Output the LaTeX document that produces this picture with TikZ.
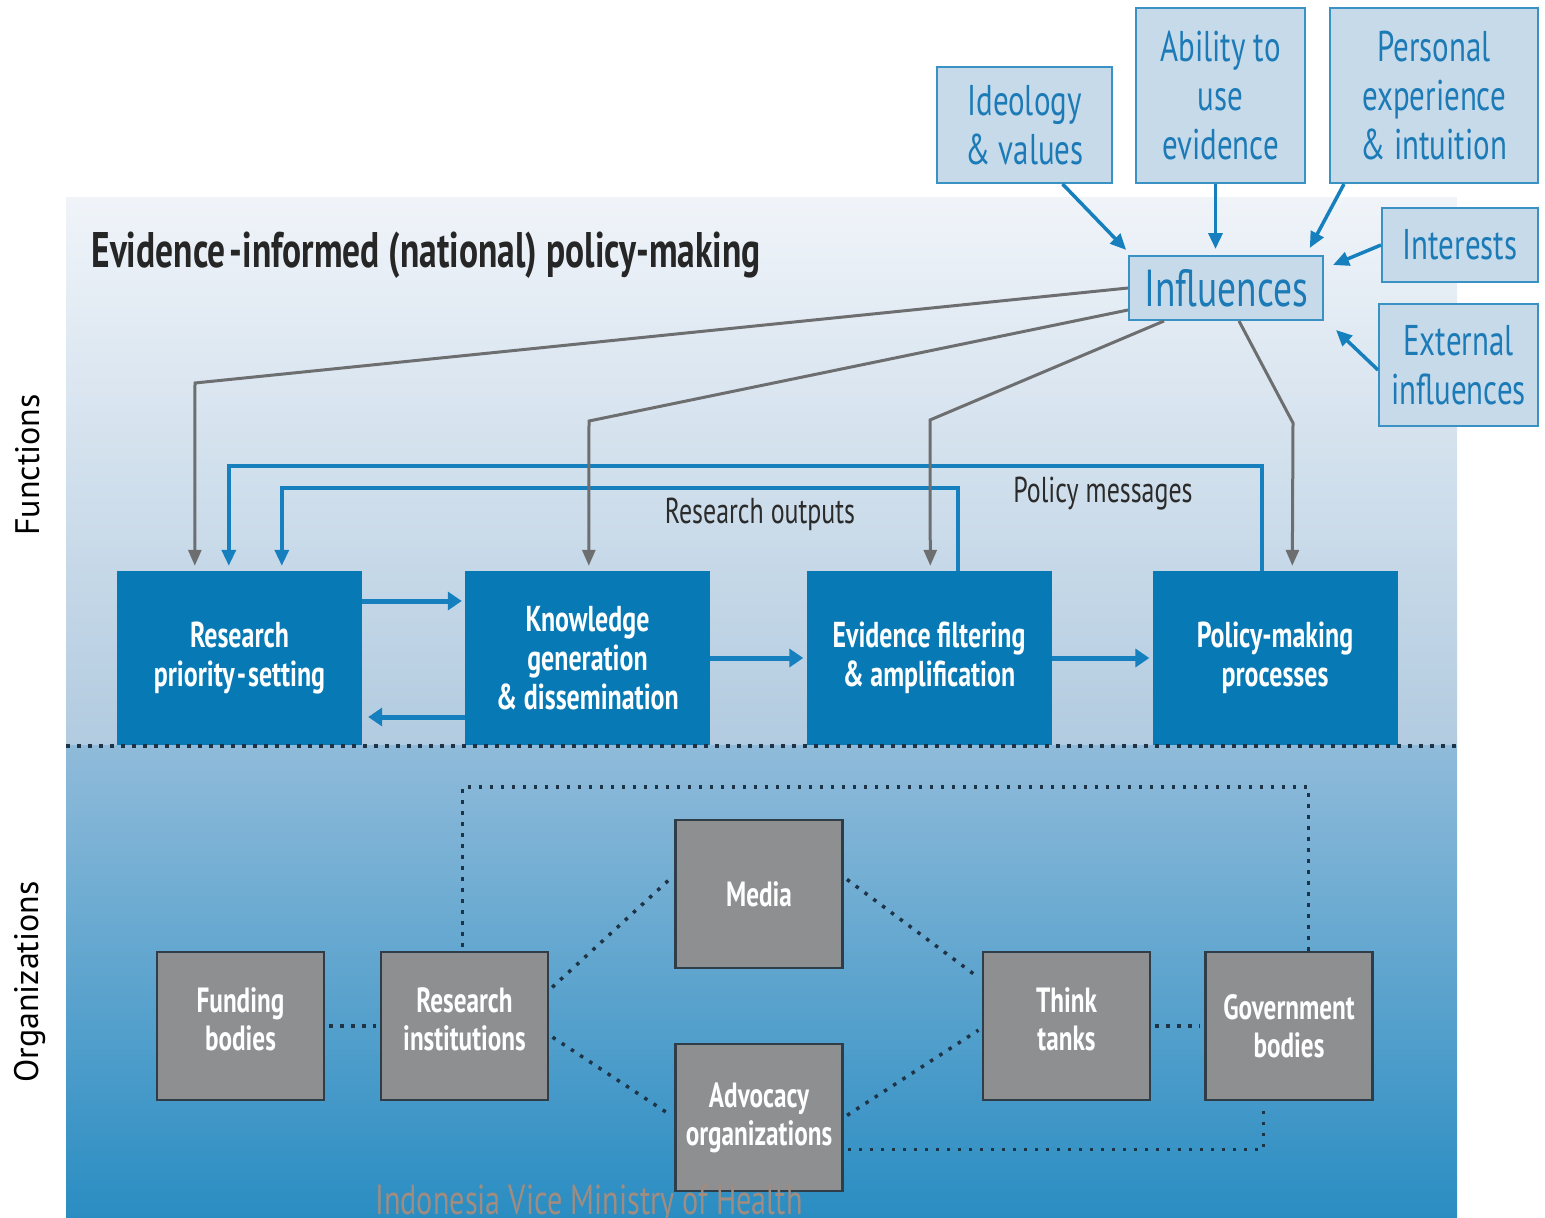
\documentclass[tikz,border=0pt]{standalone}
\usepackage{fontspec}
\setmainfont{PT Sans}[FakeStretch=0.72]
\newfontfamily\sidefont{PT Sans}
\newfontfamily\titlefont{PT Sans Bold}[FakeStretch=0.71]
\usetikzlibrary{arrows.meta}
\definecolor{fnblue}{HTML}{0779B5}
\definecolor{lineblue}{HTML}{1580BD}
\definecolor{linegray}{HTML}{6D6E70}
\definecolor{inflfill}{HTML}{C7DAEA}
\definecolor{inflline}{HTML}{3A92C4}
\definecolor{infltext}{HTML}{1C7BB6}
\definecolor{orggray}{HTML}{8E8F91}
\definecolor{orgline}{HTML}{2F3D48}
\definecolor{dotcol}{HTML}{1F3347}
\definecolor{bgtop}{HTML}{F0F4F9}
\definecolor{bgmid}{HTML}{B2CBE0}
\definecolor{lowtop}{HTML}{90BBDA}
\definecolor{lowbot}{HTML}{2A8DC2}
\definecolor{labtext}{HTML}{2B2B2B}
\definecolor{wmark}{HTML}{A08C80}

\begin{document}
\begin{tikzpicture}[x=1pt,y=-1pt,
  fbox/.style={fill=fnblue, text=white, font=\bfseries\fontsize{36}{39}\selectfont, minimum width=245pt, minimum height=174pt, inner sep=0pt, align=center},
  obox/.style={fill=orggray, draw=orgline, line width=2.5pt, text=white, font=\bfseries\fontsize{35}{38}\selectfont, minimum width=167pt, minimum height=148pt, inner sep=0pt, align=center},
  ibox/.style={fill=inflfill, draw=inflline, line width=2pt, text=infltext, font=\fontsize{43}{49}\selectfont, inner sep=0pt, align=center},
  garrow/.style={draw=linegray, line width=3pt, -{Triangle[length=16pt,width=13pt]}, shorten >=5pt},
  barrow/.style={draw=lineblue, line width=3.5pt, -{Triangle[length=16pt,width=14pt]}, shorten >=5pt},
  fnarrow/.style={draw=lineblue, line width=5pt, -{Triangle[length=14pt,width=18pt]}, shorten >=3pt},
  iarrow/.style={draw=lineblue, line width=3.5pt, -{Triangle[length=16pt,width=14pt]}},
  dotline/.style={draw=dotcol, line width=3.5pt, dash pattern=on 3.5pt off 7.5pt},
  lab/.style={text=labtext, font=\fontsize{36}{40}\selectfont}]
  \useasboundingbox (0,0) rectangle (1545,1218);

  % backgrounds
  \shade[top color=bgtop, bottom color=bgmid] (66,197) rectangle (1457,745);
  \shade[top color=lowtop, bottom color=lowbot] (66,745) rectangle (1457,1218);

  \node[anchor=west, text=black!85, font=\titlefont\fontsize{50}{56}\selectfont] (title) at (88,255) {Evidence\kern4pt-informed (national) policy-making};
  \node[rotate=90, font=\sidefont\fontsize{34}{40}\selectfont] (fnlab) at (28,465) {Functions};
  \node[rotate=90, font=\sidefont\fontsize{34}{40}\selectfont] (orglab) at (30,982) {Organizations};

  % influences
  \node[ibox, minimum width=194pt, minimum height=64pt, font=\fontsize{52}{56}\selectfont] (infl) at (1226,288) {Influences};
  \node[ibox, minimum width=175pt, minimum height=116pt] (ideo) at (1024.5,125) {Ideology\\\& values};
  \node[ibox, minimum width=169pt, minimum height=175pt] (abil) at (1220.5,95.5) {Ability to\\use\\evidence};
  \node[ibox, minimum width=208pt, minimum height=175pt] (pers) at (1434,95.5) {Personal\\experience\\\& intuition};
  \node[ibox, minimum width=156pt, minimum height=74pt] (intr) at (1460,245) {Interests};
  \node[ibox, minimum width=159pt, minimum height=122pt] (extn) at (1458.5,365) {External\\influences};

  \draw[iarrow, shorten >=7pt] ([xshift=38pt]ideo.south) -- ([xshift=3pt]infl.north west);
  \draw[iarrow, shorten >=6pt] ([xshift=-5pt]abil.south) -- ([xshift=-5pt]abil.south |- infl.north);
  \draw[iarrow, shorten >=8pt] ([xshift=15pt]pers.south west) -- ([xshift=-18pt]infl.north east);
  \draw[iarrow] (intr.west) -- ([xshift=9pt,yshift=-10pt]infl.north east);
  \draw[iarrow] ([yshift=-5pt]extn.west) -- ([xshift=12pt,yshift=-9pt]infl.south east);

  % functions
  \node[fbox] (rps) at (239.5,658) {Research\\priority\kern2pt-\kern2pt setting};
  \node[fbox] (kgd) at (587.5,658) {Knowledge\\generation\\\& dissemination};
  \node[fbox] (efa) at (929,658) {Evidence filtering\\\& amplification};
  \node[fbox] (pmp) at (1275,658) {Policy-making\\processes};

  \draw[fnarrow] ([yshift=57pt]rps.east) -- ([yshift=57pt]kgd.west);
  \draw[fnarrow, shorten >=6pt] ([yshift=-59pt]kgd.west) -- ([yshift=-59pt]rps.east);
  \draw[fnarrow] (kgd.east) -- (efa.west);
  \draw[fnarrow] (efa.east) -- (pmp.west);

  \draw[barrow] ([xshift=-13pt]pmp.north) -- ++(0,-105) -| ([xshift=112pt]rps.north west);
  \draw[barrow] ([xshift=29pt]efa.north) -- ++(0,-83) -| ([xshift=165pt]rps.north west);
  \node[lab] (outs) at (760,514) {Research outputs};
  \node[lab] (msgs) at (1103,494) {Policy messages};

  \draw[garrow] (infl.west) -- (195,383) -- ([xshift=78pt]rps.north west);
  \draw[garrow] ([yshift=-22pt]infl.west) -- (589,421) -- ([xshift=124pt]kgd.north west);
  \draw[garrow] ([xshift=36pt]infl.south west) -- (930,420) -- ([xshift=124pt]efa.north west);
  \draw[garrow] ([xshift=111pt]infl.south west) -- (1293,423) -- ([xshift=140pt]pmp.north west);

  \draw[dotline] (66,746) -- (1457,746);

  % organizations
  \node[obox] (fund) at (240.5,1026) {Funding\\bodies\\[-24pt]};
  \node[obox] (resi) at (464.5,1026) {Research\\institutions\\[-24pt]};
  \node[obox] (medi) at (759,894) {Media};
  \node[obox, minimum height=147pt] (advo) at (759,1117.5) {Advocacy\\organizations};
  \node[obox] (thnk) at (1066.5,1026) {Think\\tanks\\[-24pt]};
  \node[obox] (govb) at (1289,1026) {Government\\bodies};

  \draw[dotline, shorten <=4pt, shorten >=4pt] (fund.east) -- (resi.west);
  \draw[dotline, shorten <=4pt] ([xshift=-2pt]resi.north) -- ++(0,-164) -| ([xshift=104pt]govb.north west);
  \draw[dotline, shorten <=4pt, shorten >=4pt] ([yshift=36pt]resi.east) -- ([yshift=19pt]medi.west);
  \draw[dotline, shorten <=4pt, shorten >=4pt] ([yshift=-9pt]resi.east) -- (advo.west);
  \draw[dotline, shorten <=4pt, shorten >=4pt] ([yshift=17pt]medi.east) -- ([yshift=46pt]thnk.west);
  \draw[dotline, shorten <=4pt, shorten >=4pt] (advo.east) -- ([yshift=-2pt]thnk.west);
  \draw[dotline, shorten <=4pt, shorten >=4pt] (thnk.east) -- (govb.west);
  \draw[dotline, shorten <=4pt, shorten >=4pt] ([yshift=-32pt]advo.east) -| ([xshift=59pt]govb.south west);

  \node[anchor=base, text=wmark, font=\fontsize{42}{46}\selectfont] (wm) at (589,1214) {Indonesia Vice Ministry of Health};
\end{tikzpicture}
\end{document}
